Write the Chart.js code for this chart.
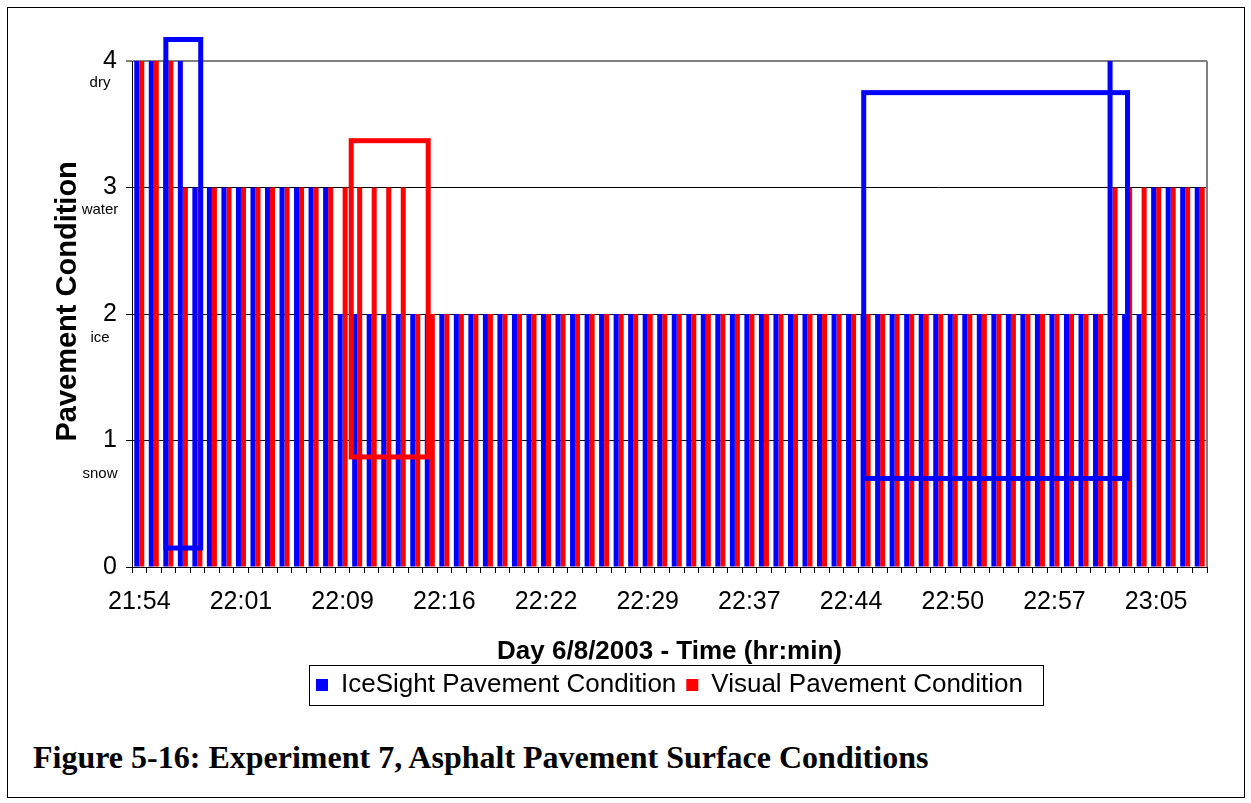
<!DOCTYPE html>
<html>
<head>
<meta charset="utf-8">
<title>Experiment 7 - Asphalt</title>
<script src="https://cdn.jsdelivr.net/npm/chart.js@4.4.1/dist/chart.umd.min.js"></script>
<style>
    body { margin: 0; background: #fff; }
    #pagina { position: relative; width: 1251px; height: 803px; overflow: hidden; }
    #moldura { position: absolute; left: 7px; top: 7px; width: 1236px; height: 789px; border: 1px solid #000; }
    #grafico { position: absolute; left: 0; top: 0; }
    #legenda-figura { position: absolute; left: 33px; top: 739px; line-height: 1; white-space: nowrap;
        font: bold 32px "Liberation Serif", "Times New Roman", serif; color: #000; }
</style>
</head>
<body>
<div id="pagina">
    <div id="moldura"></div>
    <canvas id="grafico" width="1251" height="720"></canvas>
    <div id="legenda-figura">Figure 5-16: Experiment 7, Asphalt Pavement Surface Conditions</div>
</div>

<script>
// 1. DADOS
const tickLabels = ['21:54', '22:01', '22:09', '22:16', '22:22', '22:29', '22:37', '22:44', '22:50', '22:57', '23:05'];
const labelStep = 7;      // um rótulo a cada 7 leituras
const nLeituras = 74;

// IceSight (azul)
const iceSight = [
    4, 4, 4, 4,
    3, 3, 3, 3, 3, 3, 3, 3, 3, 3,
    2, 2, 2, 2, 2,
    2, 2, 2, 2, 2, 2, 2, 2, 2, 2, 2, 2,
    2, 2, 2, 2, 2, 2, 2, 2, 2, 2, 2, 2,
    2, 2, 2, 2, 2, 2, 2, 2, 2, 2, 2, 2,
    2, 2, 2, 2, 2, 2, 2, 2, 2, 2, 2, 2,
    4, 2, 2, 3, 3, 3, 3
];

// Visual (vermelho)
const visual = [
    4, 4, 4, 3,
    3, 3, 3, 3, 3, 3, 3, 3, 3, 3,
    3, 3, 3, 3, 3,
    2, 2, 2, 2, 2, 2, 2, 2, 2, 2, 2, 2,
    2, 2, 2, 2, 2, 2, 2, 2, 2, 2, 2, 2,
    2, 2, 2, 2, 2, 2, 2, 2, 2, 2, 2, 2,
    2, 2, 2, 2, 2, 2, 2, 2, 2, 2, 2, 2,
    3, 3, 3, 3, 3, 3, 3
];

// nomes das condições ao lado do eixo Y (valor onde fica o texto)
const condicoes = ['dry', 'water', 'ice', 'snow'];
const condicoesValor = [3.83, 2.82, 1.81, 0.74];

// retângulos de destaque (em unidades do gráfico: índice da leitura e condição)
const destaques = [
    { de: 1.83, ate: 4.23, baixo: 0.15, alto: 4.17, serie: 0 },
    { de: 14.59, ate: 19.89, baixo: 0.87, alto: 3.37, serie: 1 },
    { de: 49.87, ate: 68.03, baixo: 0.70, alto: 3.75, serie: 0 }
];

const categorias = Array.from({ length: nLeituras }, (_, i) => i % labelStep === 0 ? tickLabels[i / labelStep] : '');

const AZUL = '#0000FF';
const VERMELHO = '#FF0000';
const FONTE = '"Liberation Sans", Arial, sans-serif';

Chart.defaults.font.family = FONTE;
Chart.defaults.color = '#000';

// 2. PLUGINS DE DESENHO EXTRA
const bordaPlotagem = {
    id: 'bordaPlotagem',
    beforeDatasetsDraw(chart) {
        const { ctx, chartArea } = chart;
        ctx.save();
        ctx.strokeStyle = '#808080';
        ctx.lineWidth = 2;
        ctx.beginPath();
        ctx.moveTo(chartArea.right, chartArea.top);
        ctx.lineTo(chartArea.right, chartArea.bottom);
        ctx.stroke();
        ctx.restore();
    }
};

const retangulos = {
    id: 'retangulos',
    afterDatasetsDraw(chart) {
        const { ctx } = chart;
        const x = chart.scales.x, y = chart.scales.y;
        ctx.save();
        ctx.lineWidth = 5;
        ctx.lineJoin = 'miter';
        destaques.forEach(d => {
            const x0 = x.getPixelForValue(d.de), x1 = x.getPixelForValue(d.ate);
            const y0 = y.getPixelForValue(d.alto), y1 = y.getPixelForValue(d.baixo);
            ctx.strokeStyle = chart.data.datasets[d.serie].backgroundColor;
            ctx.strokeRect(x0, y0, x1 - x0, y1 - y0);
        });
        ctx.restore();
    }
};

// textos do eixo Y: condições e título (o título fica um pouco acima do centro, como no original)
const textosEixoY = {
    id: 'textosEixoY',
    afterDraw(chart) {
        const { ctx } = chart;
        const y = chart.scales.y;
        ctx.save();
        ctx.fillStyle = '#000';
        ctx.textAlign = 'center';
        ctx.textBaseline = 'middle';
        ctx.font = '15px ' + FONTE;
        condicoes.forEach((t, i) => ctx.fillText(t, 100, y.getPixelForValue(condicoesValor[i])));

        ctx.font = 'bold 29px ' + FONTE;
        ctx.translate(68, y.getPixelForValue(2.1));
        ctx.rotate(-Math.PI / 2);
        ctx.fillText('Pavement Condition', 0, 0);
        ctx.restore();
    }
};

const caixaLegenda = {
    id: 'caixaLegenda',
    afterDraw(chart) {
        const hb = chart.legend.legendHitBoxes;
        if (!hb || !hb.length) return;
        const { ctx } = chart;
        const ultimo = hb[hb.length - 1];
        const esq = hb[0].left - 7;
        const dir = ultimo.left + ultimo.width + 20;
        const cy = hb[0].top + hb[0].height / 2;
        ctx.save();
        ctx.strokeStyle = '#000';
        ctx.lineWidth = 1;
        ctx.strokeRect(Math.round(esq) + 0.5, Math.round(cy - 20) + 0.5, Math.round(dir - esq), 40);
        ctx.restore();
    }
};

// 3. GRÁFICO
const ctx = document.getElementById('grafico').getContext('2d');
new Chart(ctx, {
    type: 'bar',
    data: {
        labels: categorias,
        datasets: [
            { label: 'IceSight Pavement Condition', data: iceSight, backgroundColor: AZUL, borderWidth: 0,
              categoryPercentage: 0.69, barPercentage: 1.0 },
            { label: 'Visual Pavement Condition', data: visual, backgroundColor: VERMELHO, borderWidth: 0,
              categoryPercentage: 0.69, barPercentage: 1.0 }
        ]
    },
    options: {
        responsive: false,
        animation: false,
        layout: { padding: { top: 61, right: 44, bottom: 12, left: 0 } },
        plugins: {
            tooltip: { enabled: false },
            legend: {
                position: 'bottom',
                fullSize: false,
                labels: { boxWidth: 12, boxHeight: 12, font: { size: 26 }, color: '#000', padding: 10 }
            }
        },
        scales: {
            x: {
                offset: true,
                ticks: { autoSkip: false, maxRotation: 0, minRotation: 0, font: { size: 25 }, color: '#000', padding: 14 },
                grid: { offset: true, drawOnChartArea: false, drawTicks: true, tickLength: 6, color: '#000' },
                border: { color: '#000', width: 1 },
                title: { display: true, text: 'Day 6/8/2003 - Time (hr:min)', color: '#000',
                         font: { size: 26, weight: 'bold' }, padding: { top: 0, bottom: -5 } },
                afterFit: s => { s.height = 95; }
            },
            y: {
                min: 0, max: 4,
                ticks: { stepSize: 1, font: { size: 25 }, color: '#000', padding: 9 },
                grid: {
                    color: c => (c.tick && c.tick.value === 4) ? '#808080' : '#000',
                    lineWidth: c => (c.tick && c.tick.value === 4) ? 2 : 1,
                    tickColor: '#000', tickWidth: 1, tickLength: 6
                },
                border: { color: '#000', width: 1 },
                afterFit: s => { s.width = 132; }
            }
        }
    },
    plugins: [bordaPlotagem, retangulos, textosEixoY, caixaLegenda]
});
</script>
</body>
</html>
